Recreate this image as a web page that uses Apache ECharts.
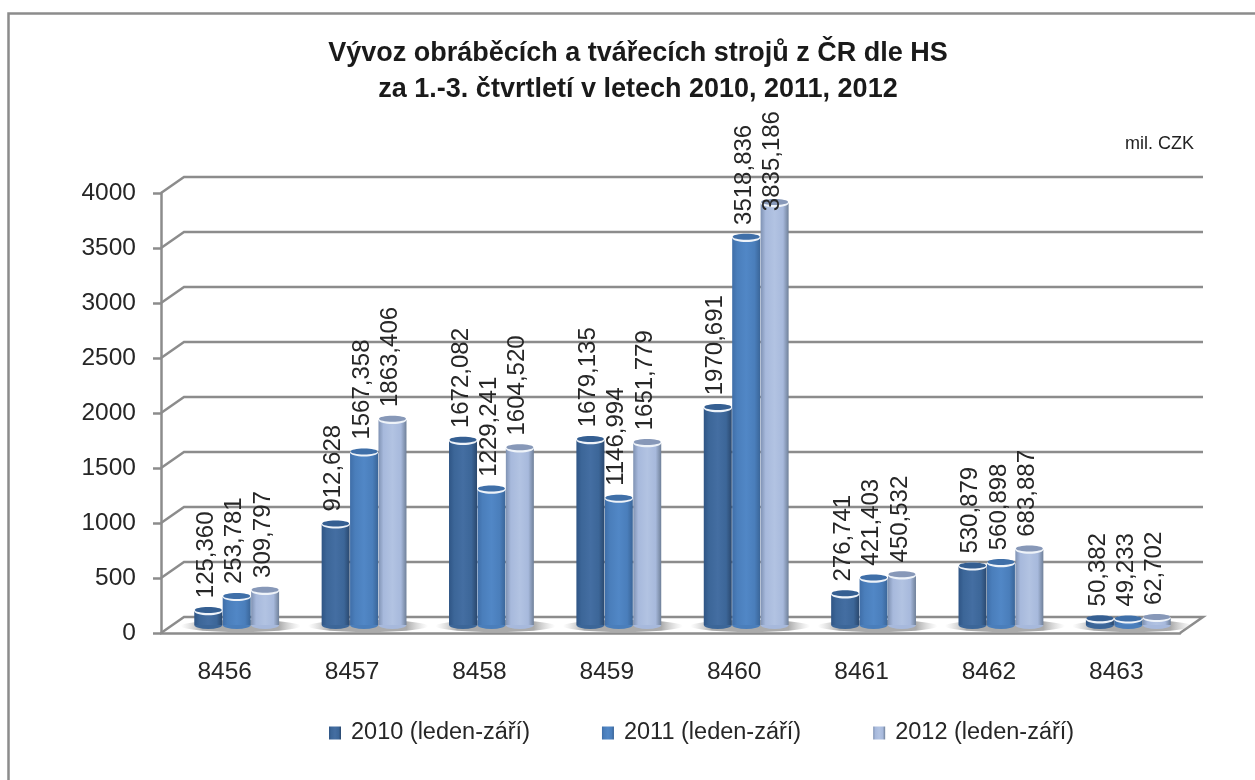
<!DOCTYPE html>
<html><head><meta charset="utf-8">
<style>html,body{margin:0;padding:0;background:#fff;overflow:hidden}#c{width:1255px;height:780px}</style>
<script src="https://cdn.jsdelivr.net/npm/echarts@6/dist/echarts.min.js"></script>
</head><body><div id="c"></div>
<script>
const categories = ['8456','8457','8458','8459','8460','8461','8462','8463'];
const seriesNames = ['2010 (leden-září)','2011 (leden-září)','2012 (leden-září)'];
const v2010 = [125.360, 912.628, 1672.082, 1679.135, 1970.691, 276.741, 530.879, 50.382];
const v2011 = [253.781, 1567.358, 1229.241, 1146.994, 3518.836, 421.403, 560.898, 49.233];
const v2012 = [309.797, 1863.406, 1604.520, 1651.779, 3835.186, 450.532, 683.887, 62.702];
const yTicks = [0,500,1000,1500,2000,2500,3000,3500,4000];
const allValues = [v2010, v2011, v2012];

const F = {l:161, t:193, w:1019, h:440};            // front plane of the 3D box
const BACK = {dx:23, dy:-16};                       // back wall offset
const MID = {dx:12, dy:-8};                         // plane of the cylinders
const barW = 28, pitch = 28.4;
const palette = [
  {edgeL:'#2f5585', mid:'#446ea2', edgeR:'#2a486e', cap:'#355f92', main:'#3c6698'},
  {edgeL:'#3f6ea8', mid:'#5187c6', edgeR:'#3a6598', cap:'#3f6fa8', main:'#4a7ebb'},
  {edgeL:'#7f92b3', mid:'#b2c3e2', edgeR:'#6f8099', cap:'#8798b8', main:'#a7b9dc'}
];
const grey = '#8c8c8c';
const font = 'Liberation Sans';
const fmt = v => v.toFixed(3).replace('.', ',');

const grad = p => new echarts.graphic.LinearGradient(0,0,1,0,[
  {offset:0,color:p.edgeL},{offset:.18,color:p.main},{offset:.5,color:p.mid},
  {offset:.8,color:p.main},{offset:1,color:p.edgeR}]);

const barSeries = allValues.map((vals,i)=>({
  name: seriesNames[i], type:'bar', xAxisIndex:1, yAxisIndex:1, data:vals,
  barWidth:barW, barGap:'1.5%', z:5,
  itemStyle:{color:grad(palette[i])}
}));

// elliptical ends of each cylinder
const capSeries = allValues.map((vals,i)=>({
  type:'custom', xAxisIndex:1, yAxisIndex:1, coordinateSystem:'cartesian2d', z:6, silent:true,
  data: vals.map((v,j)=>[j,v]), encode:{x:0,y:1},
  renderItem:(params,api)=>{
    const c = api.coord([api.value(0),api.value(1)]);
    const b = api.coord([api.value(0),0]);
    const cx = c[0] + (i-1)*pitch;
    const rx = barW/2, ry = 4;
    return {type:'group', children:[
      {type:'path', shape:{pathData:`M${cx-rx} ${b[1]} A${rx} ${ry} 0 0 0 ${cx+rx} ${b[1]} Z`},
        style:{fill:palette[i].main}},
      {type:'ellipse', shape:{cx, cy:c[1], rx, ry}, style:{fill:'#eef3f9'}},
      {type:'ellipse', shape:{cx, cy:c[1]-1.2, rx:rx-.5, ry:ry-1},
        style:{fill:palette[i].cap}}
    ]};
  }
}));

// rotated value labels, above bars and caps; the tallest is pushed down onto its bar
const labelSeries = allValues.map((vals,i)=>({
  type:'custom', xAxisIndex:1, yAxisIndex:1, coordinateSystem:'cartesian2d', z:7, silent:true,
  data: vals.map((v,j)=>[j,v]), encode:{x:0,y:1},
  renderItem:(params,api)=>{
    const v = api.value(1);
    const c = api.coord([api.value(0),v]);
    return {type:'text', x:c[0]+(i-1)*pitch-2, y:c[1]+(v>3800?8:-13), rotation:Math.PI/2,
      style:{text:fmt(v), fontFamily:font, fontSize:24, fill:'#262626', align:'left', verticalAlign:'middle'}};
  }
}));

// grey contact shadow under every group
const shadowSeries = {
  type:'custom', xAxisIndex:1, yAxisIndex:1, z:2, silent:true,
  data: categories.map((c,j)=>[j,0]), encode:{x:0,y:1},
  renderItem:(params,api)=>{
    const c = api.coord([api.value(0),0]);
    return {type:'ellipse', shape:{cx:c[0]+4, cy:c[1]+1, rx:60, ry:6},
      style:{fill:new echarts.graphic.LinearGradient(0,0,1,0,[
        {offset:0,color:'rgba(190,190,190,0)'},{offset:.18,color:'rgba(150,150,150,.8)'},
        {offset:.82,color:'rgba(150,150,150,.8)'},{offset:1,color:'rgba(190,190,190,0)'}])}};
  }
};

// side wall diagonals, back wall lines and floor from the value scale
const wallSeries = {
  type:'custom', xAxisIndex:0, yAxisIndex:0, z:1, silent:true,
  data: yTicks.map(t=>[0,t]), encode:{y:1},
  renderItem:(params,api)=>{
    const y = api.coord([0,api.value(1)])[1];
    const x0 = params.coordSys.x, x1 = x0 + params.coordSys.width;
    const ls = {stroke:grey, lineWidth:2.5, fill:null};
    const pts = [[x0,y],[x0+BACK.dx,y+BACK.dy],[x1+BACK.dx,y+BACK.dy]];
    if (api.value(1)===0) pts.push([x1,y]);
    return {type:'polyline', shape:{points:pts}, style:ls};
  }
};

const chart = echarts.init(document.getElementById('c'));
chart.setOption({
  animation:false, backgroundColor:'#fff',
  graphic:[
    {type:'rect', shape:{x:8.5,y:13.5,width:1300,height:850}, style:{fill:'none',stroke:grey,lineWidth:2.5}, silent:true},
    {type:'text', x:1125, y:135, style:{text:'mil. CZK', font:'18px "Liberation Sans"', fill:'#222'}, silent:true}
  ],
  title:{
    text:'Vývoz obráběcích a tvářecích strojů z ČR dle HS\nza 1.-3. čtvrtletí v letech 2010, 2011, 2012',
    left:633, top:31, textAlign:'center',
    textStyle:{fontFamily:font, fontWeight:'bold', fontSize:27, lineHeight:36, color:'#1a1a1a'}
  },
  legend:{
    data:seriesNames, left:324, top:716, itemWidth:12, itemHeight:13, itemGap:72,
    icon:'rect', textStyle:{fontFamily:font, fontSize:23.5, color:'#262626', padding:[0,0,0,5]}
  },
  grid:[
    {left:F.l, top:F.t, width:F.w, height:F.h, show:false},
    {left:F.l+MID.dx, top:F.t+MID.dy, width:F.w, height:F.h, show:false}
  ],
  xAxis:[
    {type:'category', gridIndex:0, data:categories, boundaryGap:true,
     axisLine:{lineStyle:{color:grey,width:2.5}},
     axisTick:{length:12, lineStyle:{color:grey,width:2.5}},
     axisLabel:{fontFamily:font, fontSize:24.5, color:'#262626', margin:27}},
    {type:'category', gridIndex:1, data:categories, show:false, boundaryGap:true}
  ],
  yAxis:[
    {type:'value', gridIndex:0, min:0, max:4000, interval:500, splitLine:{show:false},
     axisLine:{show:true, lineStyle:{color:grey,width:2.5}},
     axisTick:{show:true, length:8, lineStyle:{color:grey,width:2.5}},
     axisLabel:{fontFamily:font, fontSize:24.5, color:'#262626', margin:25, formatter:v=>String(v), padding:[4,0,0,0]}},
    {type:'value', gridIndex:1, min:0, max:4000, interval:500, show:false, splitLine:{show:false}}
  ],
  series:[wallSeries, shadowSeries, ...barSeries, ...capSeries, ...labelSeries]
});
</script></body></html>
